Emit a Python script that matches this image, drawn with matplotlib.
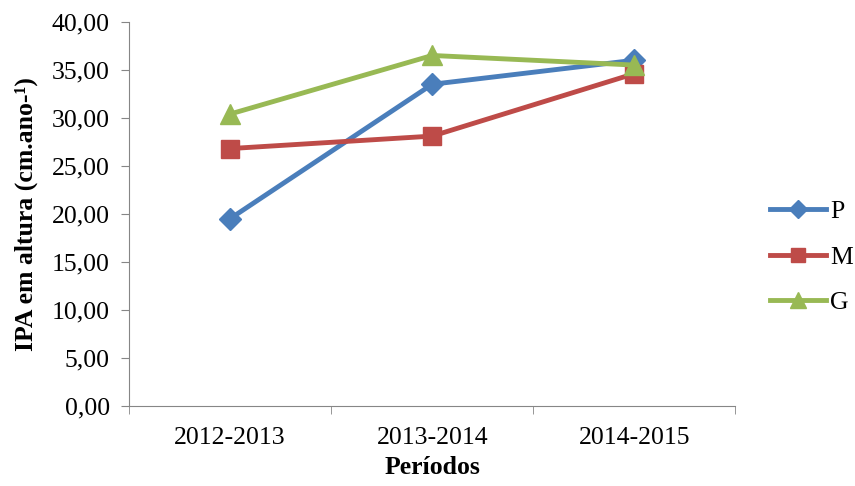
import matplotlib.pyplot as plt
import numpy as np

plt.rcParams['font.family'] = ['Liberation Serif', 'DejaVu Serif']

periodos = ["2012-2013", "2013-2014", "2014-2015"]
p_vals = [19.5, 33.5, 36.0]
m_vals = [26.8, 28.1, 34.6]
g_vals = [30.4, 36.5, 35.5]

fig = plt.figure(figsize=(8.55, 4.86), dpi=100)
ax = fig.add_axes([0.151, 0.165, 0.709, 0.79])

x = np.arange(len(periodos))
ax.plot(x, p_vals, color="#4a7ebb", lw=3.5, marker="D", ms=11, label="P")
ax.plot(x, m_vals, color="#be4b48", lw=3.5, marker="s", ms=13, label="M")
ax.plot(x, g_vals, color="#98b954", lw=3.5, marker="^", ms=14, label="G")

ax.set_xlim(-0.5, 2.5)
ax.set_ylim(0, 40)
ax.set_yticks(np.arange(0, 41, 5))
ax.set_yticklabels([f"{v:.2f}".replace(".", ",") for v in np.arange(0, 41, 5)])
ax.set_xticks(x)
ax.set_xticklabels(periodos)
ax.set_xticks([-0.5, 0.5, 1.5, 2.5], minor=True)
ax.tick_params(axis="x", which="major", length=0, labelsize=18.5, pad=15)
ax.tick_params(axis="x", which="minor", length=6, color="#868686", direction="out")
ax.tick_params(axis="y", length=6, color="#868686", labelsize=18.5, direction="out", pad=8)

for s in ["top", "right"]:
    ax.spines[s].set_visible(False)
for s in ["left", "bottom"]:
    ax.spines[s].set_color("#868686")

ax.set_xlabel("Períodos", fontsize=18.5, fontweight="bold", labelpad=5)
ax.set_ylabel("IPA em altura (cm.ano-¹)", fontsize=18.5, fontweight="bold", labelpad=10)

fig.legend(loc="center left", bbox_to_anchor=(0.9, 0.471), frameon=False,
           fontsize=18.5, handlelength=2.2, handletextpad=0.15, labelspacing=0.88,
           borderpad=0, borderaxespad=0, markerscale=0.8)

fig.savefig("out.png", dpi=100)
